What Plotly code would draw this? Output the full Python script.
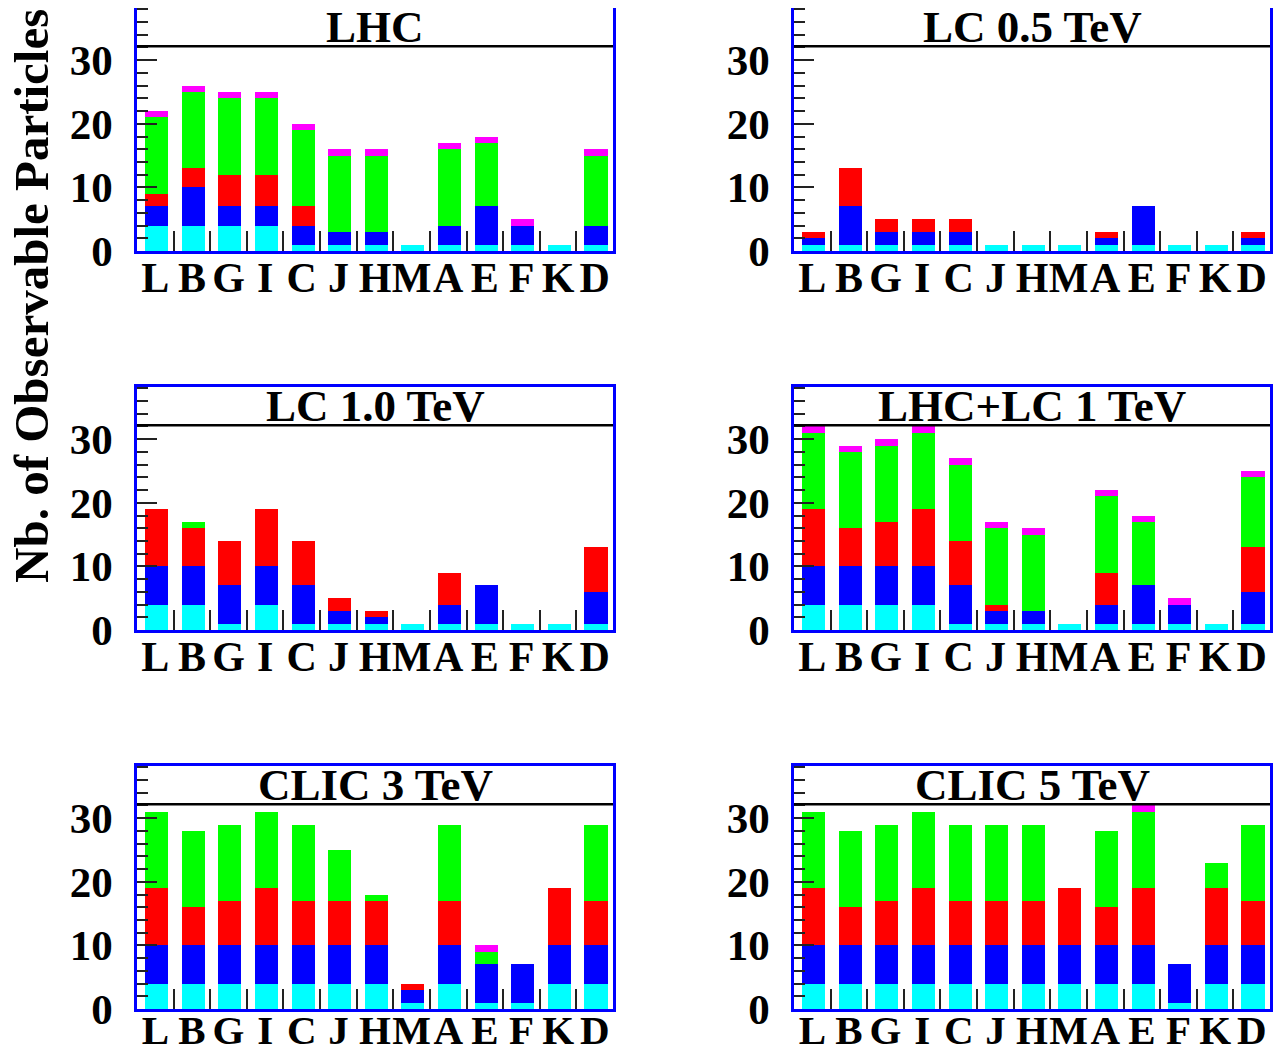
import plotly.graph_objects as go

categories = ["L", "B", "G", "I", "C", "J", "H", "M", "A", "E", "F", "K", "D"]
panel_titles = ["LHC", "LC 0.5 TeV", "LC 1.0 TeV", "LHC+LC 1 TeV", "CLIC 3 TeV", "CLIC 5 TeV"]
y_tick_values = [0, 10, 20, 30]
series_colors = ["#00FFFF", "#0000FF", "#FF0000", "#00FF00", "#FF00FF"]

# segment heights per stacked series (cyan, blue, red, green, magenta)
lhc_cyan    = [4, 4, 4, 4, 1, 1, 1, 1, 1, 1, 1, 1, 1]
lhc_blue    = [3, 6, 3, 3, 3, 2, 2, 0, 3, 6, 3, 0, 3]
lhc_red     = [2, 3, 5, 5, 3, 0, 0, 0, 0, 0, 0, 0, 0]
lhc_green   = [12, 12, 12, 12, 12, 12, 12, 0, 12, 10, 0, 0, 11]
lhc_magenta = [1, 1, 1, 1, 1, 1, 1, 0, 1, 1, 1, 0, 1]

lc05_cyan    = [1, 1, 1, 1, 1, 1, 1, 1, 1, 1, 1, 1, 1]
lc05_blue    = [1, 6, 2, 2, 2, 0, 0, 0, 1, 6, 0, 0, 1]
lc05_red     = [1, 6, 2, 2, 2, 0, 0, 0, 1, 0, 0, 0, 1]
lc05_green   = [0, 0, 0, 0, 0, 0, 0, 0, 0, 0, 0, 0, 0]
lc05_magenta = [0, 0, 0, 0, 0, 0, 0, 0, 0, 0, 0, 0, 0]

lc10_cyan    = [4, 4, 1, 4, 1, 1, 1, 1, 1, 1, 1, 1, 1]
lc10_blue    = [6, 6, 6, 6, 6, 2, 1, 0, 3, 6, 0, 0, 5]
lc10_red     = [9, 6, 7, 9, 7, 2, 1, 0, 5, 0, 0, 0, 7]
lc10_green   = [0, 1, 0, 0, 0, 0, 0, 0, 0, 0, 0, 0, 0]
lc10_magenta = [0, 0, 0, 0, 0, 0, 0, 0, 0, 0, 0, 0, 0]

comb_cyan    = [4, 4, 4, 4, 1, 1, 1, 1, 1, 1, 1, 1, 1]
comb_blue    = [6, 6, 6, 6, 6, 2, 2, 0, 3, 6, 3, 0, 5]
comb_red     = [9, 6, 7, 9, 7, 1, 0, 0, 5, 0, 0, 0, 7]
comb_green   = [12, 12, 12, 12, 12, 12, 12, 0, 12, 10, 0, 0, 11]
comb_magenta = [1, 1, 1, 1, 1, 1, 1, 0, 1, 1, 1, 0, 1]

clic3_cyan    = [4, 4, 4, 4, 4, 4, 4, 1, 4, 1, 1, 4, 4]
clic3_blue    = [6, 6, 6, 6, 6, 6, 6, 2, 6, 6, 6, 6, 6]
clic3_red     = [9, 6, 7, 9, 7, 7, 7, 1, 7, 0, 0, 9, 7]
clic3_green   = [12, 12, 12, 12, 12, 8, 1, 0, 12, 2, 0, 0, 12]
clic3_magenta = [0, 0, 0, 0, 0, 0, 0, 0, 0, 1, 0, 0, 0]

clic5_cyan    = [4, 4, 4, 4, 4, 4, 4, 4, 4, 4, 1, 4, 4]
clic5_blue    = [6, 6, 6, 6, 6, 6, 6, 6, 6, 6, 6, 6, 6]
clic5_red     = [9, 6, 7, 9, 7, 7, 7, 9, 6, 9, 0, 9, 7]
clic5_green   = [12, 12, 12, 12, 12, 12, 12, 0, 12, 12, 0, 4, 12]
clic5_magenta = [0, 0, 0, 0, 0, 0, 0, 0, 0, 1, 0, 0, 0]

panels = [
    [lhc_cyan, lhc_blue, lhc_red, lhc_green, lhc_magenta],
    [lc05_cyan, lc05_blue, lc05_red, lc05_green, lc05_magenta],
    [lc10_cyan, lc10_blue, lc10_red, lc10_green, lc10_magenta],
    [comb_cyan, comb_blue, comb_red, comb_green, comb_magenta],
    [clic3_cyan, clic3_blue, clic3_red, clic3_green, clic3_magenta],
    [clic5_cyan, clic5_blue, clic5_red, clic5_green, clic5_magenta],
]

# page body has an 8px margin; work in figure pixels = screen pixels - 8
OFF = 8
W, H = 1285 - OFF, 1054 - OFF
col_px = [(137, 613), (794, 1270)]
row_px = [(8, 251), (387, 630), (766, 1009)]
Y_MAX = 38.2
TITLE_LINE = 32.2

serif = "Liberation Serif, Times New Roman, serif"
xpos = list(range(len(categories)))
boundaries = [i + 0.5 for i in range(len(categories) - 1)]

fig = go.Figure()
layout = dict(
    template="none",
    width=W, height=H, margin=dict(l=0, r=0, t=0, b=0, autoexpand=False),
    paper_bgcolor="white", plot_bgcolor="white",
    barmode="stack", showlegend=False, bargap=0,
)
shapes = []
annotations = []

for i, series in enumerate(panels):
    r, c = divmod(i, 2)
    xa = "x" if i == 0 else f"x{i+1}"
    ya = "y" if i == 0 else f"y{i+1}"
    for vals, col in zip(series, series_colors):
        fig.add_trace(go.Bar(
            x=xpos, y=vals, xaxis=xa, yaxis=ya,
            marker=dict(color=col, line=dict(width=0)),
            width=0.63, offset=-0.28, hoverinfo="skip",
        ))
    x0, x1 = col_px[c]
    y0, y1 = row_px[r]
    xdom = [(x0 - OFF) / W, (x1 - OFF) / W]
    ydom = [1 - (y1 - OFF) / H, 1 - (y0 - OFF) / H]
    last_row = r == len(row_px) - 1
    layout["xaxis" if i == 0 else f"xaxis{i+1}"] = dict(
        domain=xdom, anchor=ya, range=[-0.5, len(categories) - 0.5],
        automargin=False,
        tickmode="array", tickvals=xpos, ticktext=categories, ticks="",
        tickangle=0,
        showgrid=False, zeroline=False,
        showline=True, mirror=True, linecolor="#0000FF", linewidth=2.5,
        tickfont=dict(family=serif, size=41 if last_row else 42,
                      color="black", weight="bold"),
        ticklabelstandoff=-17 if last_row else -12,
        minor=dict(tickmode="array", tickvals=boundaries, ticks="inside",
                   ticklen=20, tickwidth=1.5, tickcolor="#222222", showgrid=False),
        fixedrange=True,
    )
    layout["yaxis" if i == 0 else f"yaxis{i+1}"] = dict(
        domain=ydom, anchor=xa, range=[0, Y_MAX],
        automargin=False,
        tickmode="array", tickvals=y_tick_values, ticks="inside",
        ticklen=20, tickwidth=1.5, tickcolor="#222222",
        showgrid=False, zeroline=False,
        showline=True, mirror=True, linecolor="#0000FF", linewidth=2.5,
        tickfont=dict(family=serif, size=43, color="black", weight="bold"),
        ticklabelstandoff=13,
        minor=dict(tick0=0, dtick=2, ticks="inside", ticklen=11, tickwidth=1.5,
                   tickcolor="#222222", showgrid=False),
        fixedrange=True,
    )
    shapes.append(dict(
        type="line", xref=f"{xa} domain", yref=ya, x0=0, x1=1,
        y0=TITLE_LINE, y1=TITLE_LINE, line=dict(color="black", width=2.5),
    ))
    annotations.append(dict(
        text=panel_titles[i], xref=f"{xa} domain", yref=ya,
        x=0.5, y=(TITLE_LINE + Y_MAX) / 2, xanchor="center", yanchor="middle",
        showarrow=False,
        font=dict(family=serif, size=45, color="black", weight="bold"),
    ))

annotations.append(dict(
    text="Nb. of Observable Particles", xref="paper", yref="paper",
    x=(31 - OFF) / W, y=1 - (296 - OFF) / H, xanchor="center", yanchor="middle",
    textangle=-90, showarrow=False,
    font=dict(family=serif, size=49, color="black", weight="bold"),
))

layout["shapes"] = shapes
layout["annotations"] = annotations
fig.update_layout(**layout)
fig.write_html("out.html")
